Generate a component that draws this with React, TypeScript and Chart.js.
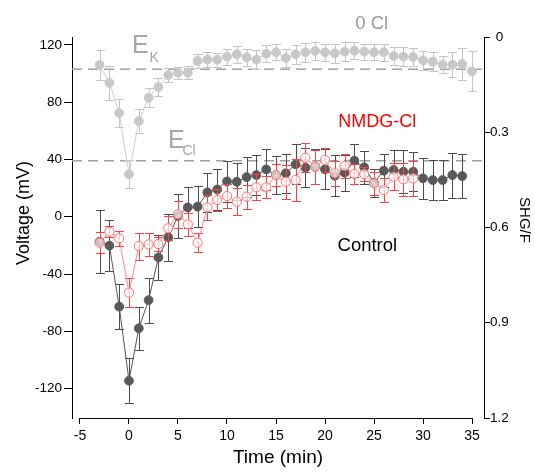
import React, { useEffect, useRef } from 'react';
import { Chart, registerables } from 'chart.js';

Chart.register(...registerables);

// ---------- data ----------
const TIMES_0CL = [-3, -2, -1, 0, 1, 2, 3, 4, 5, 6, 7, 8, 9, 10, 11, 12, 13, 14, 15, 16, 17, 18, 19, 20, 21, 22, 23, 24, 25, 26, 27, 28, 29, 30, 31, 32, 33, 34, 35];
const VOLT_0CL = [106, 93.5, 72.4, 29.6, 66.8, 83.1, 90.5, 98.9, 100.5, 100.5, 108.7, 109.6, 109.6, 111.7, 113.4, 111.3, 109.6, 113.8, 114.8, 110.8, 113.4, 114.8, 115.7, 114.8, 114, 115.2, 115.9, 115.2, 114.8, 114.8, 112.2, 111.7, 111.5, 109.2, 108.2, 106.1, 106.1, 106.6, 101.5];
const ERR_0CL = [10.5, 11.9, 9.7, 9.8, 8.4, 6.6, 6.4, 4.8, 4.2, 4.5, 5.2, 5.2, 5, 5.5, 6, 6, 6.5, 6, 5.5, 6, 6.5, 6.5, 6.5, 6, 6.5, 6.5, 6, 5.5, 5.5, 6, 6, 6.5, 6, 6.5, 6.5, 6, 8.7, 11, 14];

const TIMES_CTRL = [-3, -2, -1, 0, 1, 2, 3, 4, 5, 6, 7, 8, 9, 10, 11, 12, 13, 14, 15, 16, 17, 18, 19, 20, 21, 22, 23, 24, 25, 26, 27, 28, 29, 30, 31, 32, 33, 34];
const VOLT_CTRL = [-17.5, -20.2, -62.8, -114.5, -77.9, -58.2, -28.4, -14.4, 0.5, 6.5, 7, 17, 19, 24.6, 24.4, 27.7, 29.1, 33, 29.1, 30.3, 36.6, 34.2, 34.9, 33.1, 28.6, 30.7, 39.1, 34.5, 23.7, 32.1, 32.6, 31.4, 31.4, 26.8, 25.6, 25.6, 29.1, 28.4];
const ERR_CTRL = [22, 18, 15.7, 15.7, 14.9, 15.7, 15.7, 16.6, 15.4, 14.4, 14.4, 13.4, 14, 14, 13, 14, 14, 14, 13, 13.4, 14, 13.6, 12.2, 14, 14.3, 12.6, 11.6, 11.5, 9.9, 11.4, 13.7, 15.1, 13.6, 14.3, 13.7, 14, 15.7, 15.1];

const TIMES_NMDG = [-3, -2, -1, 0, 1, 2, 3, 4, 5, 6, 7, 8, 9, 10, 11, 12, 13, 14, 15, 16, 17, 18, 19, 20, 21, 22, 23, 24, 25, 26, 27, 28, 29];
const VOLT_NMDG = [-18.1, -10.5, -15.1, -53, -20.5, -19.3, -19.1, -8.1, 1.7, -5.3, -18.1, 6.5, 11.7, 14.4, 10.5, 14, 20.5, 20.5, 29.1, 24.4, 25.6, 41.2, 34.9, 39.6, 30.3, 35.4, 29.8, 29.8, 23.3, 18.6, 27.9, 26.1, 26.8];
const ERR_NMDG = [7.3, 4, 5.2, 10.1, 9.4, 7.8, 4.9, 8.4, 9.3, 8.1, 6.6, 8.7, 7.8, 8.1, 9.3, 8.4, 9, 7.6, 8, 12, 14.7, 10.1, 11.9, 8.1, 8.7, 8.5, 7, 5.2, 8.1, 8.1, 9.3, 11.6, 12];

const X_TICKS = [-5, 0, 5, 10, 15, 20, 25, 30, 35];
const Y_LEFT_TICKS = [-120, -80, -40, 0, 40, 80, 120];
const Y_RIGHT_TICKS = [0, 0.3, 0.6, 0.9, 1.2];

const E_K = 103;
const E_CL = 39;

const FONT = '"Liberation Sans", Arial, Helvetica, sans-serif';

function pts(xs: number[], ys: number[]) {
  return xs.map((x, i) => ({ x, y: ys[i] }));
}

const errorBarPlugin = {
  id: 'errorBars',
  beforeDatasetDraw(chart: any, args: any) {
    const ds: any = chart.data.datasets[args.index];
    const errs: number[] | undefined = ds.errors;
    if (!errs) return;
    const xs = chart.scales.x;
    const ys = chart.scales.y;
    const ctx = chart.ctx;
    ctx.save();
    ctx.strokeStyle = ds.errorColor;
    ctx.lineWidth = 1;
    ds.data.forEach((p: any, i: number) => {
      const x = Math.round(xs.getPixelForValue(p.x)) + 0.5;
      const y1 = Math.round(ys.getPixelForValue(p.y + errs[i])) + 0.5;
      const y2 = Math.round(ys.getPixelForValue(p.y - errs[i])) + 0.5;
      ctx.beginPath();
      ctx.moveTo(x, y1);
      ctx.lineTo(x, y2);
      ctx.moveTo(x - 4.5, y1);
      ctx.lineTo(x + 4.5, y1);
      ctx.moveTo(x - 4.5, y2);
      ctx.lineTo(x + 4.5, y2);
      ctx.stroke();
    });
    ctx.restore();
  },
};

const decorPlugin = {
  id: 'decor',
  beforeDatasetsDraw(chart: any) {
    const { ctx, chartArea } = chart;
    const ys = chart.scales.y;
    ctx.save();
    ctx.strokeStyle = '#a0a0a0';
    ctx.lineWidth = 1.5;
    ctx.setLineDash([10, 6]);
    [E_K, E_CL].forEach((v) => {
      const y = ys.getPixelForValue(v);
      ctx.beginPath();
      ctx.moveTo(chartArea.left, y);
      ctx.lineTo(chartArea.right - 2, y);
      ctx.stroke();
    });
    ctx.restore();
  },
  afterDraw(chart: any) {
    const { ctx, chartArea } = chart;
    const xs = chart.scales.x;
    const ys = chart.scales.y;
    ctx.save();
    // bottom axis line
    ctx.strokeStyle = '#000';
    ctx.lineWidth = 1;
    const yb = Math.round(chartArea.bottom) + 0.5;
    ctx.beginPath();
    ctx.moveTo(Math.round(xs.getPixelForValue(X_TICKS[0])), yb);
    ctx.lineTo(Math.round(xs.getPixelForValue(X_TICKS[X_TICKS.length - 1])) + 1, yb);
    ctx.stroke();

    const text = (s: string, t: number, v: number, size: number, color: string, align: CanvasTextAlign) => {
      ctx.font = `${size}px ${FONT}`;
      ctx.fillStyle = color;
      ctx.textAlign = align;
      ctx.textBaseline = 'alphabetic';
      ctx.fillText(s, xs.getPixelForValue(t), ys.getPixelForValue(v));
    };
    text('E', 0.31, 114.1, 25, '#a6a6a6', 'left');
    text('K', 2.09, 108.2, 14, '#a6a6a6', 'left');
    text('E', 3.98, 48.2, 25, '#a6a6a6', 'left');
    text('Cl', 5.46, 43.1, 14, '#a6a6a6', 'left');
    text('0 Cl', 24.77, 131, 18.5, '#999999', 'center');
    text('NMDG-Cl', 25.33, 62.8, 18, '#ff0000', 'center');
    text('Control', 24.32, -23.9, 18.5, '#000000', 'center');

    // vertical axis titles
    ctx.fillStyle = '#000';
    ctx.textAlign = 'center';
    ctx.textBaseline = 'middle';
    ctx.font = `18px ${FONT}`;
    ctx.save();
    ctx.translate(24, 213);
    ctx.rotate(-Math.PI / 2);
    ctx.fillText('Voltage (mV)', 0, 0);
    ctx.restore();
    ctx.font = `15px ${FONT}`;
    ctx.save();
    ctx.translate(524, 220);
    ctx.rotate(Math.PI / 2);
    ctx.fillText('SHG/F', 0, 0);
    ctx.restore();
    ctx.restore();
  },
};

export default function App() {
  const ref = useRef<HTMLCanvasElement | null>(null);

  useEffect(() => {
    if (!ref.current) return;
    const chart = new Chart(ref.current, {
      type: 'line',
      data: {
        datasets: [
          {
            label: '0 Cl',
            data: pts(TIMES_0CL, VOLT_0CL),
            borderColor: '#cccccc',
            backgroundColor: '#c8c8c8',
            borderWidth: 1,
            pointRadius: 4.4,
            pointBorderWidth: 1,
            pointBorderColor: '#c8c8c8',
            pointBackgroundColor: '#c8c8c8',
            yAxisID: 'y',
            order: 3,
            errors: ERR_0CL,
            errorColor: '#c4c4c4',
          } as any,
          {
            label: 'Control',
            data: pts(TIMES_CTRL, VOLT_CTRL),
            borderColor: '#555555',
            backgroundColor: '#595959',
            borderWidth: 1,
            pointRadius: 4.4,
            pointBorderWidth: 1,
            pointBorderColor: '#595959',
            pointBackgroundColor: '#595959',
            yAxisID: 'y',
            order: 2,
            errors: ERR_CTRL,
            errorColor: '#4d4d4d',
          } as any,
          {
            label: 'NMDG-Cl',
            data: pts(TIMES_NMDG, VOLT_NMDG),
            borderColor: '#ff8c8c',
            backgroundColor: 'rgba(255,255,255,0.65)',
            borderWidth: 1,
            pointRadius: 4.6,
            pointBorderWidth: 1,
            pointBorderColor: '#ff7070',
            pointBackgroundColor: 'rgba(255,255,255,0.65)',
            yAxisID: 'y',
            order: 1,
            errors: ERR_NMDG,
            errorColor: '#ff4040',
          } as any,
        ],
      },
      options: {
        animation: false,
        responsive: false,
        maintainAspectRatio: false,
        layout: { padding: { top: 37, left: 0, right: 0, bottom: 0 } },
        plugins: {
          legend: { display: false },
          tooltip: { enabled: false },
        },
        elements: { line: { tension: 0 } },
        scales: {
          x: {
            type: 'linear',
            position: 'bottom',
            min: -5.816,
            max: 36.224,
            afterBuildTicks: (s: any) => {
              s.ticks = X_TICKS.map((v) => ({ value: v }));
            },
            afterFit: (s: any) => {
              s.height = 54;
            },
            border: { display: false },
            grid: { drawOnChartArea: false, drawTicks: true, tickLength: 6, color: '#000', tickColor: '#000' },
            ticks: {
              color: '#000',
              padding: 4,
              maxRotation: 0,
              autoSkip: false,
              font: { family: FONT, size: 14 },
              callback: (v: any) => String(v),
            },
            title: {
              display: true,
              text: 'Time (min)',
              color: '#000',
              font: { family: FONT, size: 19 },
              padding: { top: 0, bottom: 3 },
            },
          },
          y: {
            type: 'linear',
            position: 'left',
            min: -140.5,
            max: 125.45,
            afterBuildTicks: (s: any) => {
              s.ticks = Y_LEFT_TICKS.map((v) => ({ value: v }));
            },
            afterFit: (s: any) => {
              s.width = 72;
            },
            border: { display: true, color: '#000', width: 1 },
            grid: { drawOnChartArea: false, drawTicks: true, tickLength: 8, color: '#000', tickColor: '#000' },
            ticks: {
              color: '#000',
              padding: 2,
              autoSkip: false,
              font: { family: FONT, size: 13.5 },
              callback: (v: any) => String(v),
            },
          },
          y2: {
            type: 'linear',
            position: 'right',
            reverse: true,
            min: 0,
            max: 1.2,
            afterBuildTicks: (s: any) => {
              s.ticks = Y_RIGHT_TICKS.map((v) => ({ value: v }));
            },
            afterFit: (s: any) => {
              s.width = 51;
            },
            border: { display: true, color: '#000', width: 1 },
            grid: { drawOnChartArea: false, drawTicks: true, tickLength: 6, color: '#000', tickColor: '#000' },
            ticks: {
              color: '#000',
              padding: 0,
              autoSkip: false,
              crossAlign: 'center',
              font: { family: FONT, size: 13.5 },
              callback: (v: any) => (v === 0 ? '0' : Number(v).toFixed(1)),
            },
          },
        },
      } as any,
      plugins: [errorBarPlugin, decorPlugin],
    });
    return () => chart.destroy();
  }, []);

  return (
    <div style={{ position: 'absolute', left: 0, top: 0, width: 535, height: 472, background: '#fff' }}>
      <canvas ref={ref} width={535} height={472} style={{ display: 'block' }} />
    </div>
  );
}
